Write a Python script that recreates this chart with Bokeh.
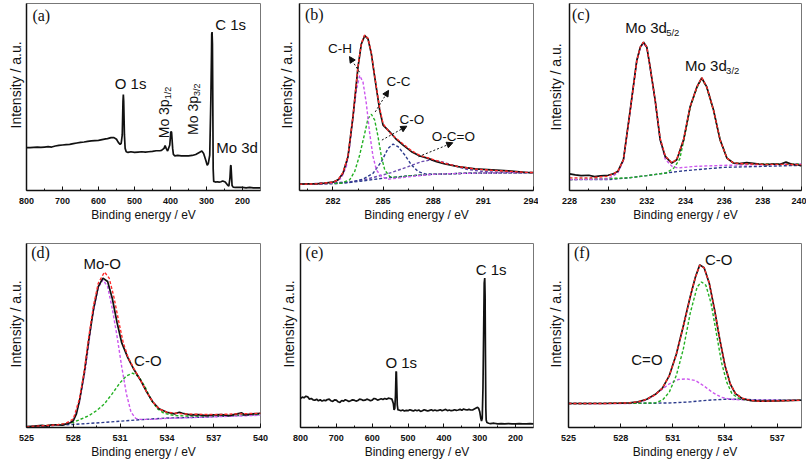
import math
from bokeh.plotting import figure
from bokeh.layouts import column, row
from bokeh.models import Range1d, FixedTicker, Arrow, NormalHead, Title
from bokeh.core.properties import value
from bokeh.embed import file_html
from bokeh.resources import INLINE

# ---------------- data ----------------
# (a) survey spectrum
a_x = [800, 790, 780, 770, 760, 750, 740, 730, 720, 710, 700, 690, 680, 670, 660, 650, 640, 630, 620, 610,
       600, 590, 580, 575, 565, 557, 550, 545, 540, 537, 534, 532, 531, 530, 528, 526, 523, 518, 510, 500,
       490, 480, 470, 460, 450, 440, 430, 425, 418, 415, 412, 408, 402, 399, 397, 394, 392, 388, 380, 370,
       360, 350, 340, 330, 320, 313, 308, 302, 298, 295, 291, 288, 286, 285.5, 284.5, 283.5, 282.5, 281.5, 280, 275,
       270, 265, 260, 255, 248, 242, 238, 235, 233, 232, 231, 229, 226, 220, 215, 210, 200, 190, 180, 170,
       160, 150]
a_y = [127, 127, 128, 129, 128, 129, 130, 129, 132, 134, 135, 136, 137, 139, 141, 143, 144, 146, 147, 148,
       149, 151, 153, 154, 157, 157, 152, 143, 137, 140, 165, 265, 285, 265, 165, 125, 115, 113, 115, 113,
       114, 115, 114, 115, 116, 118, 118, 119, 125, 133, 125, 117, 135, 175, 173, 125, 107, 103, 104, 103,
       103, 103, 104, 107, 113, 117, 110, 90, 75, 80, 105, 265, 415, 465, 470, 435, 265, 65, 27, 25,
       26, 25, 26, 28, 25, 17, 13, 35, 73, 75, 55, 15, 10, 9, 9, 9, 9, 8, 9, 8,
       8, 8]

# (b) C 1s
b_x = [280.0, 280.5, 281, 281.5, 282, 282.3, 282.6, 282.9, 283.2, 283.5, 283.7, 283.9, 284.1, 284.3, 284.5,
       284.8, 285.0, 285.4, 285.8, 286.2, 286.7, 287.2, 287.7, 288.2, 288.7, 289.5, 290.5, 291.5, 292.5, 293.5, 294]
b_y = [19, 20, 20, 22, 25, 32, 52, 102, 222, 372, 442, 467, 457, 412, 342,
       242, 197, 177, 154, 137, 117, 104, 97, 87, 80, 72, 65, 62, 59, 55, 54]
b_fit_x = [280, 281, 282, 282.3, 282.6, 282.9, 283.2, 283.5, 283.7, 283.9, 284.1, 284.3, 284.5, 284.8, 285.0,
           285.4, 285.8, 286.2, 286.7, 287.2, 287.7, 288.2, 288.7, 289.5, 290.5, 291.5, 292.5, 293.5, 294]
b_fit_y = [19, 20, 25, 32, 54, 104, 224, 374, 444, 469, 459, 414, 344, 247, 202,
           174, 157, 140, 120, 106, 98, 90, 82, 72, 65, 61, 58, 55, 54]
b_ch_x = [280, 281, 282, 282.5, 282.8, 283.0, 283.2, 283.4, 283.6, 283.8, 284.0, 284.2, 284.4, 284.6, 284.9,
          285.3, 286, 287, 288, 290, 294]
b_ch_y = [19, 19, 22, 37, 72, 132, 222, 302, 347, 327, 262, 172, 102, 62, 42, 34, 38, 44, 49, 52, 54]
b_cc_x = [280, 282.5, 283.0, 283.3, 283.6, 283.9, 284.1, 284.3, 284.5, 284.7, 284.9, 285.1, 285.4, 285.8,
          286.5, 288, 290, 294]
b_cc_y = [19, 22, 32, 57, 107, 172, 217, 230, 212, 162, 102, 62, 42, 39, 44, 49, 52, 54]
b_co_x = [280, 283.0, 283.8, 284.4, 284.9, 285.3, 285.6, 285.9, 286.3, 286.7, 287.1, 287.5, 288, 290, 294]
b_co_y = [19, 24, 34, 52, 87, 127, 140, 132, 107, 77, 57, 50, 49, 52, 54]
b_oco_x = [280, 283, 284, 285, 285.5, 286.5, 287.3, 287.8, 288.5, 289.3, 290, 291, 292, 294]
b_oco_y = [19, 26, 34, 47, 54, 72, 87, 92, 87, 74, 64, 57, 55, 54]
b_bg_x = [280, 282, 283.5, 285, 286.5, 288, 290, 294]
b_bg_y = [19, 20, 27, 37, 44, 49, 52, 54]

# (c) Mo 3d
c_x = [228, 228.3, 228.6, 229, 229.3, 229.6, 230, 230.3, 230.5, 230.79, 231.14, 231.48, 231.66, 231.83, 232.0,
       232.17, 232.43, 232.69, 232.95, 233.29, 233.55, 233.9, 234.24, 234.59, 234.84, 235.1, 235.45, 235.79,
       236.14, 236.48, 236.8, 237.17, 237.5, 237.8, 238.2, 238.55, 238.9, 239.2, 239.5, 239.8, 240]
c_y = [50, 47, 45, 46, 42, 44, 46, 51, 58, 93, 243, 393, 433, 448, 433,
       373, 273, 153, 103, 83, 93, 153, 253, 313, 340, 313, 243, 153,
       98, 83, 81, 84, 82, 80, 78, 80, 79, 86, 79, 78, 74]
c_fit_x = [228, 229, 230, 230.5, 230.79, 231.14, 231.48, 231.66, 231.83, 232.0, 232.17, 232.43, 232.69, 232.95,
           233.29, 233.55, 233.9, 234.24, 234.59, 234.84, 235.1, 235.45, 235.79, 236.14, 236.48, 237, 238, 239, 240]
c_fit_y = [38, 38, 43, 58, 93, 241, 391, 433, 448, 433, 373, 273, 158, 105,
           83, 95, 153, 253, 313, 341, 313, 243, 153, 98, 83, 81, 79, 79, 78]
c_d52_x = [228, 230, 230.5, 230.79, 231.14, 231.48, 231.66, 231.83, 232.0, 232.17, 232.43, 232.69, 232.95,
           233.3, 233.6, 234.5, 236, 240]
c_d52_y = [33, 35, 53, 91, 241, 391, 431, 446, 431, 371, 271, 153, 95, 73, 68, 73, 76, 80]
c_d32_x = [228, 231, 232, 233.0, 233.4, 233.7, 233.9, 234.24, 234.59, 234.84, 235.1, 235.45, 235.79, 236.14,
           236.5, 237, 240]
c_d32_y = [33, 38, 45, 53, 68, 95, 148, 251, 311, 338, 311, 241, 153, 98, 83, 80, 80]
c_bg_x = [228, 230, 231, 232, 233, 234, 235, 236, 238, 240]
c_bg_y = [33, 33, 38, 45, 53, 60, 65, 70, 73, 76]

# (d) O 1s
d_x = [525, 525.5, 526, 526.3, 526.6, 527, 527.3, 527.5, 527.8, 528.0, 528.2, 528.4, 528.7, 529.0, 529.3,
       529.6, 529.9, 530.2, 530.5, 530.8, 531.1, 531.5, 531.9, 532.3, 532.7, 533.1, 533.5, 534.0, 534.5,
       534.8, 535, 535.5, 536, 536.5, 537, 537.5, 538, 538.5, 538.8, 539, 539.5, 540]
d_y = [3, 4, 6, 4, 8, 8, 7, 10, 14, 20, 40, 80, 160, 260, 350,
       415, 440, 430, 380, 310, 250, 205, 170, 140, 105, 75, 55, 45, 40,
       45, 42, 37, 38, 35, 37, 38, 35, 40, 43, 37, 40, 42]
d_fit_x = [525, 526, 527, 527.5, 528, 528.4, 528.7, 529.0, 529.3, 529.6, 530.0, 530.3, 530.6, 530.9, 531.2,
           531.5, 531.9, 532.3, 532.7, 533.1, 533.5, 534, 535, 537, 540]
d_fit_y = [2, 5, 8, 12, 25, 85, 165, 270, 360, 425, 458, 440, 385, 315, 250,
           208, 172, 140, 105, 75, 55, 45, 40, 38, 42]
d_moo_x = [525, 527, 527.5, 528, 528.4, 528.8, 529.2, 529.6, 529.9, 530.2, 530.5, 530.8, 531.1, 531.4, 531.7,
           532.0, 532.3, 533, 534, 536, 540]
d_moo_y = [2, 7, 10, 20, 75, 180, 320, 412, 435, 415, 350, 270, 180, 100, 45, 27, 24, 24, 27, 30, 36]
d_co_x = [525, 527, 528, 528.5, 529, 529.5, 530, 530.5, 531, 531.4, 531.8, 532.2, 532.6, 533, 533.4, 533.8,
          534.5, 536, 538, 540]
d_co_y = [2, 8, 15, 25, 35, 50, 70, 100, 132, 152, 160, 150, 120, 80, 55, 42, 35, 33, 35, 40]
d_bg_x = [525, 528, 530, 532, 534, 536, 538, 540]
d_bg_y = [2, 9, 15, 22, 28, 30, 34, 38]

# (e) survey spectrum
e_x = [800, 795, 790, 785, 780, 775, 770, 765, 760, 755, 750, 745, 740, 735, 730, 725, 720, 715, 710, 705,
       700, 695, 690, 685, 680, 675, 670, 665, 660, 655, 650, 645, 640, 635, 630, 625, 620, 615, 610, 605,
       600, 595, 590, 585, 580, 575, 570, 565, 560, 555, 550, 545,
       541, 539, 537, 535, 533.5, 532.5, 531.5, 530, 528, 525,
       520, 515, 510, 505, 500, 495, 490, 485, 480, 475, 470, 465, 460, 455, 450, 445, 440, 435, 430, 425,
       420, 415, 410, 405, 400, 395, 390, 385, 380, 375, 370, 365, 360, 355, 350, 345, 340, 335, 330, 325,
       320, 315, 310,
       306, 303, 300, 297, 295, 293, 291, 289, 287.5, 286, 285, 284, 283, 282, 280, 275,
       270, 260, 250, 240, 230, 220, 210, 200, 190, 180, 170, 160, 150]
e_y = [88, 92, 90, 95, 93, 86, 88, 84, 83, 86, 81, 84, 80, 83, 81, 85, 86, 81, 79, 84,
       83, 78, 76, 82, 80, 84, 82, 79, 81, 84, 83, 80, 82, 86, 85, 82, 83, 86, 84, 81,
       83, 88, 87, 83, 85, 87, 85, 88, 86, 89, 88, 86,
       73, 53, 58, 98, 168, 170, 128, 68, 53, 53,
       51, 53, 50, 52, 51, 54, 52, 50, 53, 51, 53, 49, 51, 54, 52, 50, 52, 54, 51, 53,
       51, 52, 54, 51, 53, 55, 51, 53, 51, 52, 54, 52, 53, 55, 52, 56, 54, 53, 55, 53,
       53, 56, 59,
       61, 58, 48, 28, 20, 28, 118, 298, 438, 453, 398, 218, 58, 23, 15, 13,
       12, 13, 11, 12, 11, 12, 11, 11, 12, 11, 11, 12, 11]

# (f) O 1s region fit
f_x = [525, 526, 527, 528, 528.5, 529.0, 529.5, 530.0, 530.4, 530.8, 531.2, 531.6, 532.0, 532.3, 532.55,
       532.8, 533.1, 533.4, 533.7, 534.0, 534.3, 534.6, 535.0, 535.5, 536, 537, 538.4]
f_y = [73, 73, 73, 74, 75, 78, 86, 101, 120, 158, 223, 308, 398, 458, 495,
       486, 438, 358, 268, 188, 133, 103, 88, 82, 80, 81, 83]
f_fit_x = [525, 527, 528.5, 529.0, 529.5, 530.0, 530.4, 530.8, 531.2, 531.6, 532.0, 532.3, 532.55, 532.8,
           533.1, 533.4, 533.7, 534.0, 534.3, 534.6, 535.0, 535.5, 536, 537, 538.4]
f_fit_y = [73, 73, 75, 78, 86, 100, 120, 158, 222, 307, 398, 458, 494, 486,
           439, 359, 269, 189, 134, 104, 89, 82, 80, 81, 83]
f_co_x = [525, 529, 530.0, 530.4, 530.8, 531.2, 531.6, 532.0, 532.4, 532.65, 532.9, 533.2, 533.5, 533.8,
          534.1, 534.4, 534.8, 535.3, 536, 538.4]
f_co_y = [73, 74, 75, 83, 108, 158, 238, 348, 428, 443, 433, 378, 288, 198, 138, 103, 88, 83, 81, 83]
f_c2o_x = [525, 528.5, 529.2, 529.8, 530.3, 530.8, 531.3, 531.8, 532.3, 532.8, 533.3, 533.8, 534.3, 535,
           536, 538.4]
f_c2o_y = [73, 73, 78, 93, 113, 133, 146, 148, 143, 126, 106, 92, 86, 84, 83, 83]
f_bg_x = [525, 530, 531, 532, 533, 534, 535, 536, 538.4]
f_bg_y = [73, 74, 75, 78, 83, 86, 86, 84, 83]

# ticks
survey_ticks = [800, 700, 600, 500, 400, 300, 200]
survey_minor = [750, 650, 550, 450, 350, 250]
b_ticks = [282, 285, 288, 291, 294]
b_minor = [280.5, 283.5, 286.5, 289.5, 292.5]
c_ticks = [228, 230, 232, 234, 236, 238, 240]
c_minor = [229, 231, 233, 235, 237, 239]
d_ticks = [525, 528, 531, 534, 537, 540]
d_minor = [526.5, 529.5, 532.5, 535.5, 538.5]
f_ticks = [525, 528, 531, 534, 537]
f_minor = [526.5, 529.5, 532.5, 535.5]

# labels
a_lab_x = [511, 233, 215]
a_lab_y = [318, 493, 128]
a_lab = ["O 1s", "C 1s", "Mo 3d"]
a_rot_x = [417, 337]
a_rot_y = [155, 165]
a_rot = ["Mo 3p", "Mo 3p"]
a_rot_sub = ["1/2", "3/2"]
b_lab_x = [282.43, 285.92, 286.72, 289.21]
b_lab_y = [427, 330, 215, 162]
b_lab = ["C-H", "C-C", "C-O", "O-C=O"]
b_arr_x0 = [283.59, 284.53, 284.93, 287.12]
b_arr_y0 = [357, 237, 152, 102]
b_arr_x1 = [282.99, 285.33, 286.42, 289.17]
b_arr_y1 = [404, 302, 194, 144]
c_lab_x = [230.88, 233.98]
c_lab_y = [493, 379]
c_lab = ["Mo 3d", "Mo 3d"]
c_lab_sub = ["5/2", "3/2"]
d_lab_x = [529.85, 532.78]
d_lab_y = [483, 198]
d_lab = ["Mo-O", "C-O"]
e_lab_x = [268, 519]
e_lab_y = [478, 196]
e_lab = ["C 1s", "O 1s"]
f_lab_x = [533.64, 529.51]
f_lab_y = [511, 206]
f_lab = ["C-O", "C=O"]

# ---------------- styling ----------------
FONT = "Liberation Sans"
SERIF = "Liberation Serif"
BLACK = "#111111"
RED = "#ff2a2a"
MAG = "#cc55ee"
GREEN = "#22b022"
NAVY = "#2b3a8c"
PURPLE = "#6a4bb0"
DASH = "3 2"


def make_fig(xr, ymax, fw, fh, bl, br, bt, bb, ticks, minor, ylab_off, ylab_gap):
    p = figure(x_range=Range1d(xr[0], xr[1]), y_range=Range1d(0, ymax),
               frame_width=fw, frame_height=fh,
               min_border_left=bl, min_border_right=br, min_border_top=bt, min_border_bottom=bb,
               output_backend="svg", toolbar_location=None)
    p.grid.visible = False
    p.outline_line_color = "#777777"
    p.outline_line_width = 1
    xa = p.xaxis[0]
    xa.ticker = FixedTicker(ticks=ticks, minor_ticks=minor)
    xa.major_tick_in = 4
    xa.major_tick_out = 0
    xa.minor_tick_in = 2
    xa.minor_tick_out = 0
    xa.axis_line_width = 1.5
    xa.axis_line_color = BLACK
    xa.major_tick_line_color = BLACK
    xa.minor_tick_line_color = BLACK
    xa.major_label_text_font = FONT
    xa.major_label_text_font_style = "bold"
    xa.major_label_text_font_size = "9px"
    xa.major_label_text_color = BLACK
    xa.major_label_standoff = 7
    xa.axis_label = "Binding energy / eV"
    xa.axis_label_text_font = FONT
    xa.axis_label_text_font_style = "normal"
    xa.axis_label_text_font_size = "12px"
    xa.axis_label_text_color = BLACK
    xa.axis_label_standoff = 1
    ya = p.yaxis[0]
    ya.ticker = FixedTicker(ticks=[], minor_ticks=[])
    ya.major_tick_in = 0
    ya.major_tick_out = 0
    ya.minor_tick_in = 0
    ya.minor_tick_out = 0
    ya.major_label_standoff = 0
    ya.axis_line_width = 1.5
    ya.axis_line_color = BLACK
    ya.axis_label = None
    ylab = Title(text="Intensity / a.u.", align="left", offset=ylab_off, standoff=ylab_gap,
                 text_font=FONT, text_font_size="14px", text_font_style="normal", text_color=BLACK)
    p.add_layout(ylab, "left")
    return p


def dline(p, x, y, color):
    p.line(x, y, line_color=color, line_dash=DASH, line_width=1.4)


def solid(p, x, y):
    p.line(x, y, line_color=BLACK, line_width=1.7)


def tag(p, x, y, t):
    p.text(x=[x], y=[y], text=[t], text_font=value(SERIF), text_font_size="16px",
           text_align="center", text_baseline="middle", text_color=BLACK)


def labels(p, xs, ys, ts, size="15px"):
    p.text(x=xs, y=ys, text=ts, text_font=value(FONT), text_font_size=size,
           text_align="center", text_baseline="middle", text_color=BLACK)


# (a)
fa = make_fig((800, 150), 555, 234, 187, 26, 10, 3, 50, survey_ticks, survey_minor, 62, 6)
solid(fa, a_x, a_y)
labels(fa, a_lab_x, a_lab_y, a_lab)
fa.text(x=a_rot_x, y=a_rot_y, text=a_rot, angle=math.pi / 2, text_font=value(FONT), text_font_size="14px",
        text_align="left", text_baseline="alphabetic", text_color=BLACK)
fa.text(x=a_rot_x, y=a_rot_y, text=a_rot_sub, angle=math.pi / 2, x_offset=4, y_offset=-39,
        text_font=value(FONT), text_font_size="9px", text_align="left", text_baseline="alphabetic",
        text_color=BLACK)
tag(fa, 759, 518, "(a)")

# (b)
fb = make_fig((280, 294), 564, 234, 187, 29, 5, 3, 50, b_ticks, b_minor, 62, 9)
dline(fb, b_bg_x, b_bg_y, NAVY)
dline(fb, b_oco_x, b_oco_y, PURPLE)
dline(fb, b_co_x, b_co_y, NAVY)
dline(fb, b_cc_x, b_cc_y, GREEN)
dline(fb, b_ch_x, b_ch_y, MAG)
solid(fb, b_x, b_y)
dline(fb, b_fit_x, b_fit_y, RED)
labels(fb, b_lab_x, b_lab_y, b_lab, "13.5px")
for i in range(len(b_arr_x0)):
    fb.add_layout(Arrow(end=NormalHead(size=6, fill_color=BLACK, line_color=BLACK),
                        x_start=b_arr_x0[i], y_start=b_arr_y0[i], x_end=b_arr_x1[i], y_end=b_arr_y1[i],
                        line_color=BLACK, line_width=1, line_dash="2 2"))
tag(fb, 280.88, 530, "(b)")

# (c)
fc = make_fig((228, 240), 565, 232, 187, 31, 5, 3, 50, c_ticks, c_minor, 60, 11)
dline(fc, c_bg_x, c_bg_y, NAVY)
dline(fc, c_d32_x, c_d32_y, GREEN)
dline(fc, c_d52_x, c_d52_y, MAG)
solid(fc, c_x, c_y)
dline(fc, c_fit_x, c_fit_y, RED)
fc.text(x=c_lab_x, y=c_lab_y, text=c_lab, text_font=value(FONT), text_font_size="15px",
        text_align="left", text_baseline="middle", text_color=BLACK)
fc.text(x=c_lab_x, y=c_lab_y, text=c_lab_sub, x_offset=41, y_offset=5, text_font=value(FONT),
        text_font_size="9.5px", text_align="left", text_baseline="middle", text_color=BLACK)
tag(fc, 228.59, 531, "(c)")

# (d)
fd = make_fig((525, 540), 542, 234, 184, 26, 12, 3, 36, d_ticks, d_minor, 60, 6)
dline(fd, d_bg_x, d_bg_y, NAVY)
dline(fd, d_co_x, d_co_y, GREEN)
dline(fd, d_moo_x, d_moo_y, MAG)
solid(fd, d_x, d_y)
dline(fd, d_fit_x, d_fit_y, RED)
labels(fd, d_lab_x, d_lab_y, d_lab)
tag(fd, 525.9, 515, "(d)")

# (e)
fe = make_fig((800, 150), 558, 233, 184, 28, 6, 3, 36, survey_ticks, survey_minor, 60, 8)
solid(fe, e_x, e_y)
labels(fe, e_lab_x, e_lab_y, e_lab)
tag(fe, 761, 530, "(e)")

# (f)
ff = make_fig((525, 538.4), 560, 233, 184, 29, 5, 3, 36, f_ticks, f_minor, 60, 9)
dline(ff, f_bg_x, f_bg_y, NAVY)
dline(ff, f_c2o_x, f_c2o_y, MAG)
dline(ff, f_co_x, f_co_y, GREEN)
solid(ff, f_x, f_y)
dline(ff, f_fit_x, f_fit_y, RED)
labels(ff, f_lab_x, f_lab_y, f_lab)
tag(ff, 525.77, 533, "(f)")

layout = column(row(fa, fb, fc), row(fd, fe, ff))
open("out.html", "w").write(file_html(layout, INLINE))
